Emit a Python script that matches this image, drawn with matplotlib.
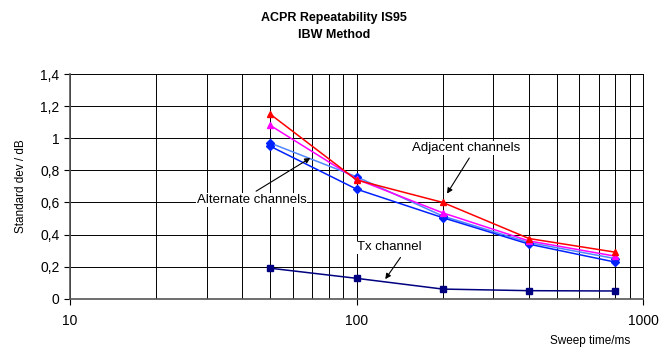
import matplotlib
matplotlib.use("Agg")
import matplotlib.pyplot as plt
from matplotlib.ticker import FuncFormatter, LogLocator, NullFormatter

plt.rcParams["font.family"] = ["Liberation Sans", "DejaVu Sans"]

# sweep times (ms) and standard deviation (dB) per series
sweep_ms = [50, 100, 200, 400, 800]
adj_upper = [1.15, 0.74, 0.60, 0.375, 0.29]
adj_lower = [1.08, 0.745, 0.535, 0.36, 0.265]
alt_upper = [0.97, 0.76, 0.515, 0.35, 0.25]
alt_lower = [0.95, 0.683, 0.505, 0.34, 0.228]
tx_channel = [0.19, 0.127, 0.06, 0.05, 0.048]

y_ticks = [0, 0.2, 0.4, 0.6, 0.8, 1.0, 1.2, 1.4]
x_ticks = [10, 100, 1000]

fig = plt.figure(figsize=(6.64, 3.51), dpi=100)
ax = fig.add_axes([0.1054, 0.149, 0.863, 0.640])

ax.plot(sweep_ms, adj_upper, color="#ff0000", lw=1.1, marker="^", ms=5, zorder=5)
ax.plot(sweep_ms, adj_lower, color="#ff00ff", lw=1.1, marker="^", ms=5, zorder=4)
ax.plot(sweep_ms, alt_upper, color="#4f86ff", lw=1.1, marker="D", ms=4,
        mfc="#0022ff", mec="#0022ff", zorder=3)
ax.plot(sweep_ms, alt_lower, color="#0022ff", lw=1.1, marker="D", ms=4, zorder=3)
ax.plot(sweep_ms, tx_channel, color="#000080", lw=1.1, marker="s", ms=4.5, zorder=3)

ax.set_xscale("log")
ax.set_xlim(10, 1000)
ax.set_ylim(0, 1.4)
ax.set_yticks(y_ticks)
ax.yaxis.set_major_formatter(FuncFormatter(lambda v, p: f"{v:g}".replace(".", ",")))
ax.set_xticks(x_ticks)
ax.xaxis.set_major_formatter(FuncFormatter(lambda v, p: f"{v:g}"))
ax.xaxis.set_minor_locator(LogLocator(base=10, subs=range(2, 10)))
ax.xaxis.set_minor_formatter(NullFormatter())
ax.tick_params(axis="x", which="minor", length=0)
ax.tick_params(axis="both", which="major", labelsize=10, length=4, width=0.8,
               direction="out")
ax.tick_params(axis="x", which="major", pad=7)

ax.grid(True, which="both", axis="x", color="black", lw=0.7)
ax.grid(True, which="major", axis="y", color="black", lw=0.7)
ax.set_axisbelow(True)
ax.spines["top"].set_visible(False)
ax.spines["right"].set_color("black")
ax.spines["right"].set_linewidth(0.7)
ax.spines["left"].set_color("#555555")
ax.spines["bottom"].set_color("#555555")
ax.spines["left"].set_linewidth(1.2)
ax.spines["bottom"].set_linewidth(1.2)

fig.text(0.503, 0.950, "ACPR Repeatability IS95", ha="center", va="center",
         fontsize=9, fontweight="bold")
fig.text(0.503, 0.900, "IBW Method", ha="center", va="center",
         fontsize=9, fontweight="bold")
fig.text(0.031, 0.47, "Standard dev / dB", rotation=90, ha="center", va="center",
         fontsize=8.5)
fig.text(0.889, 0.028, "Sweep time/ms", ha="center", va="center", fontsize=8.5)

box = dict(fc="white", ec="none", pad=0.5)


def arrow(rel):
    return dict(arrowstyle="-|>", color="black", lw=0.8, mutation_scale=8,
                relpos=rel, shrinkA=3, shrinkB=0)


ax.annotate("Adjacent channels", xy=(207, 0.655), xytext=(242, 0.94),
            ha="center", va="center", fontsize=9.5, arrowprops=arrow((0.55, 0)),
            bbox=box)
ax.annotate("Alternate channels", xy=(69, 0.877), xytext=(43, 0.615),
            ha="center", va="center", fontsize=9.5, arrowprops=arrow((0.5, 1)),
            bbox=box)
ax.annotate("Tx channel", xy=(126, 0.122), xytext=(130, 0.32),
            ha="center", va="center", fontsize=9.5, arrowprops=arrow((0.72, 0)),
            bbox=box)

fig.savefig("out.png", dpi=100)
